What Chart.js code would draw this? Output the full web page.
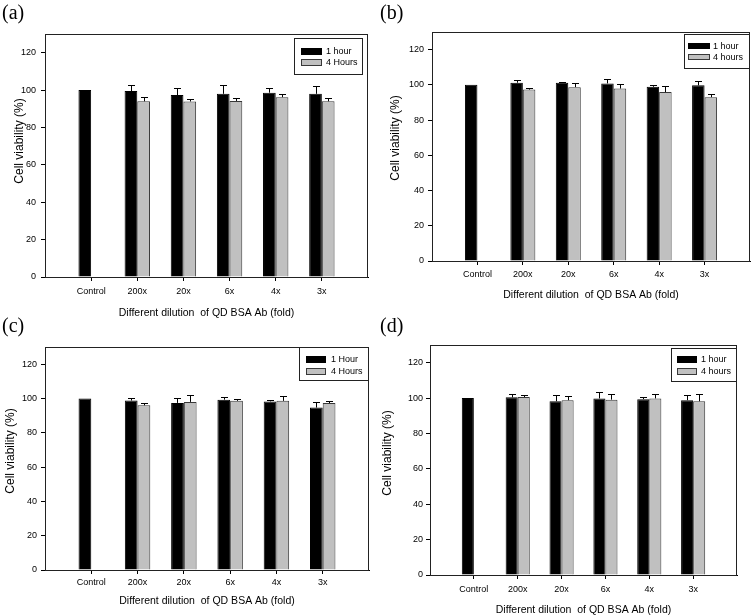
<!DOCTYPE html>
<html><head><meta charset="utf-8">
<script src="https://cdn.jsdelivr.net/npm/chart.js@4.4.1/dist/chart.umd.min.js"></script>
<style>
html,body{margin:0;padding:0;background:#fff;}
#wrap{position:relative;width:756px;height:616px;overflow:hidden;background:#fff;}
canvas{position:absolute;}
.lab{position:absolute;font-family:"Liberation Serif","Times New Roman",serif;font-size:20px;line-height:20px;color:#000;}
</style></head><body>
<div id="wrap">
<canvas id="ca" width="378" height="322" style="left:0px;top:0px;width:378px;height:322px"></canvas>
<canvas id="cb" width="378" height="322" style="left:378px;top:0px;width:378px;height:322px"></canvas>
<canvas id="cc" width="378" height="308" style="left:0px;top:308px;width:378px;height:308px"></canvas>
<canvas id="cd" width="378" height="308" style="left:378px;top:308px;width:378px;height:308px"></canvas>
<div class="lab" style="left:2px;top:2px">(a)</div>
<div class="lab" style="left:380px;top:2px">(b)</div>
<div class="lab" style="left:2px;top:315px">(c)</div>
<div class="lab" style="left:380px;top:315px">(d)</div>
</div>
<script>
// ---- data ----
const categories = ['Control', '200x', '20x', '6x', '4x', '3x'];
const yMax = 130;
const yStep = 20;
const xTitle = 'Different dilution  of QD BSA Ab (fold)';
const yTitle = 'Cell viability (%)';

const aLabels = ['1 hour', '4 Hours'];
const a1h = [100, 99.5, 97.3, 98.0, 98.6, 98.0];
const a1hErr = [0, 3.1, 3.9, 4.6, 2.6, 4.3];
const a4h = [null, 94.0, 93.9, 94.2, 96.2, 94.0];
const a4hErr = [null, 2.4, 1.3, 1.6, 1.6, 1.6];

const bLabels = ['1 hour', '4 hours'];
const b1h = [100, 101.2, 101.2, 100.8, 98.9, 99.7];
const b1hErr = [0, 1.3, 0.5, 2.7, 1.0, 2.2];
const b4h = [null, 97.3, 98.7, 97.9, 95.9, 93.0];
const b4hErr = [null, 1.1, 2.4, 2.6, 3.6, 1.6];

const cLabels = ['1 Hour', '4 Hours'];
const c1h = [100, 98.8, 97.4, 99.3, 98.3, 94.7];
const c1hErr = [0, 1.3, 2.6, 1.4, 1.0, 3.5];
const c4h = [null, 96.0, 98.0, 98.6, 98.6, 97.3];
const c4hErr = [null, 1.1, 4.0, 0.8, 2.7, 1.3];

const dLabels = ['1 hour', '4 hours'];
const d1h = [100, 100.4, 98.2, 99.8, 99.4, 98.8];
const d1hErr = [0, 1.9, 3.5, 3.4, 1.2, 2.7];
const d4h = [null, 100.6, 98.8, 99.1, 99.8, 98.2];
const d4hErr = [null, 1.1, 2.4, 3.2, 2.7, 3.9];

// ---- layout (pixels) ----
const panels = [
  {id:'ca', h:322, w:378, area:{l:45,t:34,r:368,b:277}, tickPad:5, yPad:5, titlePad:2.7,
   yT:{x:20,y:141}, lg:{x:294,y:38,w:69,h:37,sx:301,sw:21,sh:7,rows:[48,59],tx:326},
   labels:aLabels, s1:a1h, e1:a1hErr, s2:a4h, e2:a4hErr},
  {id:'cb', h:322, w:378, area:{l:54,t:32,r:372,b:261}, tickPad:4.6, yPad:4, titlePad:20.7,
   yT:{x:18,y:138}, lg:{x:306,y:34,w:66,h:35,sx:310,sw:22,sh:6,rows:[43,54],tx:335},
   labels:bLabels, s1:b1h, e1:b1hErr, s2:b4h, e2:b4hErr},
  {id:'cc', h:308, w:378, area:{l:45,t:39,r:369,b:262}, tickPad:3.6, yPad:4, titlePad:8.4,
   yT:{x:11,y:143}, lg:{x:299,y:39,w:70,h:34,sx:306,sw:20,sh:7,rows:[48,60],tx:331},
   labels:cLabels, s1:c1h, e1:c1hErr, s2:c4h, e2:c4hErr},
  {id:'cd', h:308, w:378, area:{l:52,t:37,r:359,b:267}, tickPad:5.1, yPad:3, titlePad:0,
   yT:{x:10,y:145}, lg:{x:293,y:40,w:66,h:34,sx:299,sw:20,sh:7,rows:[48,60],tx:323},
   labels:dLabels, s1:d1h, e1:d1hErr, s2:d4h, e2:d4hErr}
];

const FONT = '"Liberation Sans", Arial, Helvetica, sans-serif';
Chart.defaults.color = '#000';
Chart.defaults.font.family = FONT;

const pad = arr => [null, ...arr, null];

const deco = {
  id: 'deco',
  afterDatasetsDraw(chart, args, o) {
    const ctx = chart.ctx, ys = chart.scales.y;
    ctx.save();
    ctx.strokeStyle = '#000';
    ctx.lineWidth = 1;
    chart.data.datasets.forEach((ds, i) => {
      const meta = chart.getDatasetMeta(i);
      meta.data.forEach((bar, j) => {
        const v = ds.data[j], e = ds.errors[j];
        if (v == null || !e) return;
        const x = Math.round(bar.x) + 0.5;
        const yt = Math.round(ys.getPixelForValue(v + e)) + 0.5;
        ctx.beginPath();
        ctx.moveTo(x, bar.y);
        ctx.lineTo(x, yt);
        ctx.moveTo(x - 3.5, yt);
        ctx.lineTo(x + 3.5, yt);
        ctx.stroke();
      });
    });
    ctx.restore();
  },
  afterDraw(chart, args, o) {
    const ctx = chart.ctx, a = chart.chartArea;
    ctx.save();
    // frame
    ctx.strokeStyle = '#222';
    ctx.lineWidth = 1;
    ctx.strokeRect(Math.round(a.left) + 0.5, Math.round(a.top) + 0.5,
                   Math.round(a.right - a.left) - 1, Math.round(a.bottom - a.top));
    // legend
    const L = o.lg;
    ctx.fillStyle = '#fff';
    ctx.fillRect(L.x, L.y, L.w, L.h);
    ctx.strokeStyle = '#222';
    ctx.strokeRect(L.x + 0.5, L.y + 0.5, L.w - 1, L.h - 1);
    ctx.font = '9px ' + FONT;
    ctx.textBaseline = 'middle';
    ctx.textAlign = 'left';
    chart.data.datasets.forEach((ds, i) => {
      const ry = L.rows[i];
      ctx.fillStyle = ds.backgroundColor;
      ctx.fillRect(L.sx, ry, L.sw, L.sh);
      ctx.strokeStyle = ds.borderColor;
      ctx.strokeRect(L.sx + 0.5, ry + 0.5, L.sw - 1, L.sh - 1);
      ctx.fillStyle = '#000';
      ctx.fillText(ds.label, L.tx, ry + L.sh / 2 + 0.5);
    });
    // y title
    ctx.translate(o.yT.x, o.yT.y);
    ctx.rotate(-Math.PI / 2);
    ctx.textAlign = 'center';
    ctx.font = '12px ' + FONT;
    ctx.fillStyle = '#000';
    ctx.fillText(yTitle, 0, 0);
    ctx.restore();
  }
};

panels.forEach(p => {
  const xl = ['', ...categories, ''];
  new Chart(document.getElementById(p.id), {
    type: 'bar',
    data: {
      labels: xl,
      datasets: [
        {label: p.labels[0], data: pad(p.s1), errors: pad(p.e1),
         backgroundColor: '#000000', borderColor: '#000000', borderWidth: 1},
        {label: p.labels[1], data: pad(p.s2), errors: pad(p.e2),
         backgroundColor: '#c0c0c0', borderColor: '#383838', borderWidth: 1}
      ]
    },
    options: {
      responsive: false,
      animation: false,
      events: [],
      layout: {padding: {top: p.area.t, right: p.w - p.area.r, left: 0, bottom: 0}},
      datasets: {bar: {categoryPercentage: 0.55, barPercentage: 1.0}},
      plugins: {
        legend: {display: false},
        tooltip: {enabled: false},
        deco: {lg: p.lg, yT: p.yT}
      },
      scales: {
        x: {
          type: 'category',
          offset: false,
          grid: {offset: false, drawOnChartArea: false, drawTicks: true, tickLength: 4,
                 color: c => (c.index === 0 || c.index === xl.length - 1) ? 'rgba(0,0,0,0)' : '#000'},
          border: {display: true, color: '#000', width: 1},
          ticks: {font: {size: 9}, color: '#000', padding: p.tickPad, maxRotation: 0, autoSkip: false},
          title: {display: true, text: xTitle, font: {size: 10.5}, color: '#000',
                  padding: {top: 0, bottom: p.titlePad}},
          afterFit: s => { s.height = p.h - p.area.b; }
        },
        y: {
          min: 0, max: yMax,
          grid: {drawOnChartArea: false, drawTicks: true, tickLength: 4, color: '#000'},
          border: {display: true, color: '#000', width: 1},
          ticks: {stepSize: yStep, includeBounds: false, font: {size: 9}, color: '#000', padding: p.yPad},
          afterFit: s => { s.width = p.area.l; }
        }
      }
    },
    plugins: [deco]
  });
});
</script>
</body></html>
